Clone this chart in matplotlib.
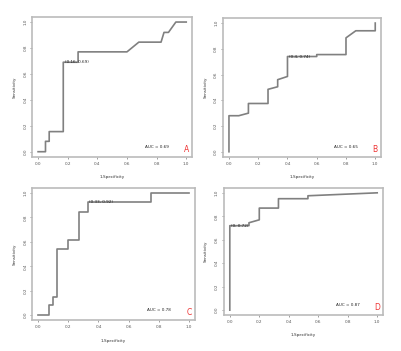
import matplotlib
matplotlib.use("Agg")
import matplotlib.pyplot as plt

# ROC curves: x = 1-Specificity, y = Sensitivity
a_x = [0.0, 0.05, 0.05, 0.075, 0.075, 0.17, 0.17, 0.27, 0.27, 0.60, 0.68, 0.83, 0.85, 0.88, 0.93, 1.0]
a_y = [0.0, 0.0, 0.08, 0.08, 0.155, 0.155, 0.69, 0.69, 0.77, 0.77, 0.845, 0.845, 0.92, 0.92, 1.0, 1.0]

b_x = [0.0, 0.0, 0.067, 0.133, 0.133, 0.267, 0.267, 0.333, 0.333, 0.4, 0.4, 0.6, 0.6, 0.8, 0.8, 0.867, 1.0, 1.0]
b_y = [0.0, 0.28, 0.28, 0.30, 0.375, 0.375, 0.485, 0.505, 0.56, 0.585, 0.74, 0.74, 0.755, 0.755, 0.885, 0.94, 0.94, 1.0]

c_x = [0.0, 0.07, 0.07, 0.10, 0.10, 0.125, 0.125, 0.2, 0.2, 0.27, 0.27, 0.33, 0.33, 0.75, 0.75, 1.0]
c_y = [0.0, 0.0, 0.08, 0.08, 0.15, 0.15, 0.54, 0.54, 0.615, 0.615, 0.845, 0.845, 0.925, 0.925, 1.0, 1.0]

d_x = [0.0, 0.0, 0.13, 0.13, 0.2, 0.2, 0.33, 0.33, 0.53, 0.53, 1.0]
d_y = [0.0, 0.72, 0.72, 0.745, 0.77, 0.87, 0.87, 0.95, 0.95, 0.975, 1.0]

cut_labels = ["(0.16, 0.69)", "(0.4, 0.74)", "(0.33, 0.92)", "(0, 0.72)"]
cut_points = [(0.17, 0.69), (0.4, 0.74), (0.33, 0.925), (0.0, 0.72)]
auc_labels = ["AUC = 0.69", "AUC = 0.65", "AUC = 0.78", "AUC = 0.87"]
panel_letters = ["A", "B", "C", "D"]

curves = [(a_x, a_y), (b_x, b_y), (c_x, c_y), (d_x, d_y)]
boxes = [
    [0.080, 0.553, 0.398, 0.399],
    [0.555, 0.553, 0.393, 0.396],
    [0.080, 0.088, 0.405, 0.376],
    [0.557, 0.103, 0.396, 0.361],
]

fig = plt.figure(figsize=(4.02, 3.51), dpi=100)
fig.patch.set_facecolor("white")

ticks = [0.0, 0.2, 0.4, 0.6, 0.8, 1.0]
for (xs, ys), box, cl, cp, auc, letter in zip(curves, boxes, cut_labels, cut_points, auc_labels, panel_letters):
    ax = fig.add_axes(box)
    ax.plot(xs, ys, color="#808080", lw=1.2)
    ax.set_xlim(-0.04, 1.04)
    ax.set_ylim(-0.04, 1.04)
    ax.set_xticks(ticks)
    ax.set_yticks(ticks)
    ax.set_xticklabels([f"{t:.1f}" for t in ticks], fontsize=3)
    ax.set_yticklabels([f"{t:.1f}" for t in ticks], fontsize=3, rotation=90, va="center")
    ax.tick_params(length=1.5, width=0.4, pad=2, colors="#555555")
    for s in ax.spines.values():
        s.set_color("#bbbbbb")
        s.set_linewidth(1.2)
    ax.set_xlabel("1-Specificity", fontsize=3, labelpad=7, color="#333333")
    ax.set_ylabel("Sensitivity", fontsize=3, labelpad=5, color="#333333")
    ax.text(cp[0] + 0.01, cp[1], cl, fontsize=3, va="center", ha="left", color="#222222")
    ax.text(0.8, 0.04, auc, fontsize=3, ha="center", va="center", color="#222222")
    ax.text(1.0, 0.02, letter, fontsize=5.5, ha="center", va="center", color="#ee3333")

plt.savefig("out.png", dpi=100)
